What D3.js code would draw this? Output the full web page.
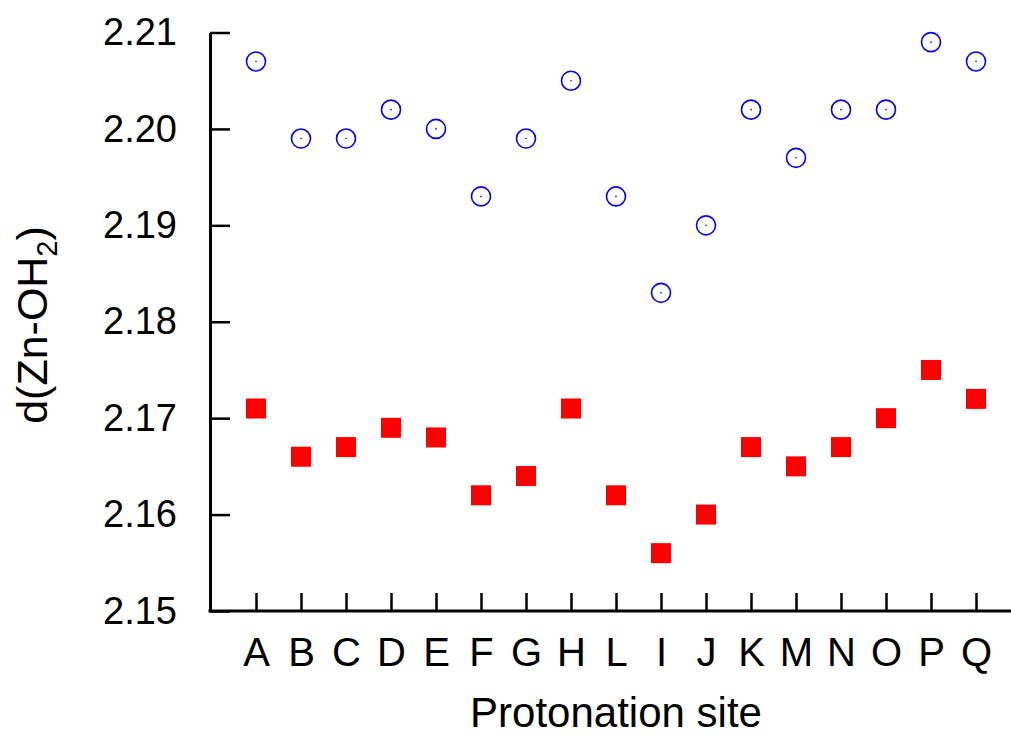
<!DOCTYPE html>
<html>
<head>
<meta charset="utf-8">
<script src="https://cdn.jsdelivr.net/npm/d3@7"></script>
<style>
  body { margin: 0; background: #fff; }
  text { font-family: "Liberation Sans", Arial, sans-serif; }
</style>
</head>
<body>
<script>
// data
var sites = ["A","B","C","D","E","F","G","H","L","I","J","K","M","N","O","P","Q"];
var openValues = [2.207, 2.199, 2.199, 2.202, 2.200, 2.193, 2.199, 2.205, 2.193, 2.183, 2.190, 2.202, 2.197, 2.202, 2.202, 2.209, 2.207];
var filledValues = [2.171, 2.166, 2.167, 2.169, 2.168, 2.162, 2.164, 2.171, 2.162, 2.156, 2.160, 2.167, 2.165, 2.167, 2.170, 2.175, 2.172];
var yTicks = [2.15, 2.16, 2.17, 2.18, 2.19, 2.20, 2.21];

var width = 1011, height = 736;
var left = 210, bottom = 611;

var svg = d3.select("body").append("svg")
    .attr("width", width)
    .attr("height", height);

var x = d3.scalePoint().domain(sites).range([256, 976]);
var y = d3.scaleLinear().domain([2.15, 2.21]).range([bottom, 32.5]);

// y axis, ticks pointing inward
var yAxis = svg.append("g")
    .attr("transform", "translate(" + left + ",0)")
    .call(d3.axisLeft(y).tickValues(yTicks).tickFormat(d3.format(".2f"))
        .tickSizeInner(-20).tickSizeOuter(0).tickPadding(33));
yAxis.select(".domain").attr("stroke-width", 3);
yAxis.selectAll(".tick line").attr("stroke-width", 2.5);
yAxis.selectAll(".tick text").attr("font-size", 38).attr("fill", "#000")
    .attr("font-family", "Liberation Sans, Arial, sans-serif");

// x axis
var xAxis = svg.append("g")
    .attr("transform", "translate(0," + bottom + ")")
    .call(d3.axisBottom(x).tickSizeInner(-18).tickSizeOuter(0).tickPadding(27));
xAxis.select(".domain").remove();
xAxis.append("line")
    .attr("x1", left - 1.5).attr("x2", width)
    .attr("y1", 0).attr("y2", 0)
    .attr("stroke", "#000").attr("stroke-width", 3);
xAxis.selectAll(".tick line").attr("stroke-width", 2.5);
xAxis.selectAll(".tick text").attr("font-size", 40).attr("fill", "#000")
    .attr("font-family", "Liberation Sans, Arial, sans-serif");

// axis titles
svg.append("text")
    .attr("x", 616).attr("y", 727)
    .attr("text-anchor", "middle")
    .attr("font-size", 42)
    .text("Protonation site");

var yTitle = svg.append("text")
    .attr("transform", "translate(47,325) rotate(-90)")
    .attr("text-anchor", "middle")
    .attr("font-size", 43);
yTitle.append("tspan").text("d(Zn-OH");
yTitle.append("tspan").attr("font-size", 29).attr("dy", 10).text("2");
yTitle.append("tspan").attr("dy", -10).text(")");

// open circles with a centre dot
var circles = svg.append("g").selectAll("g")
    .data(openValues)
    .join("g")
    .attr("transform", function(d, i) { return "translate(" + x(sites[i]) + "," + y(d) + ")"; });
circles.append("circle")
    .attr("r", 9.5)
    .attr("fill", "none")
    .attr("stroke", "#0000ff")
    .attr("stroke-width", 1.6);
circles.append("circle")
    .attr("r", 0.8)
    .attr("fill", "#0000ff");

// filled squares
svg.append("g").selectAll("rect")
    .data(filledValues)
    .join("rect")
    .attr("x", function(d, i) { return x(sites[i]) - 10; })
    .attr("y", function(d) { return y(d) - 10; })
    .attr("width", 20)
    .attr("height", 20)
    .attr("fill", "#ff0000");
</script>
</body>
</html>
